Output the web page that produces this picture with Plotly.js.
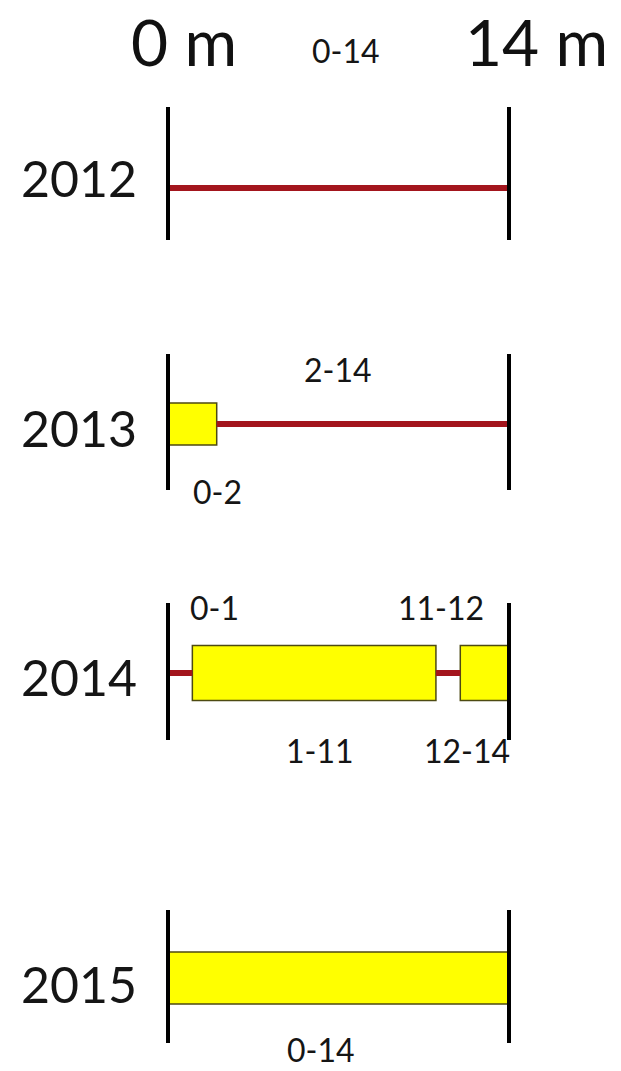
<!DOCTYPE html>
<html>
<head>
<meta charset="utf-8">
<script src="https://cdn.plot.ly/plotly-3.0.1.min.js"></script>
<style>html,body{margin:0;padding:0;background:#fff;}#chart{width:621px;height:1071px;}</style>
</head>
<body>
<div id="chart"></div>
<script>
// ---- data ----
const years = [2012, 2013, 2014, 2015];
const segStart = [[0], [0, 2], [0, 1, 11, 12], [0]];
const segEnd = [[14], [2, 14], [1, 11, 12, 14], [14]];
const segKind = [["wire"], ["box", "wire"], ["wire", "box", "wire", "box"], ["box"]];
const segLabel = [["0-14"], ["0-2", "2-14"], ["0-1", "1-11", "11-12", "12-14"], ["0-14"]];
const scaleEnds = [0, 14];
const scaleLabels = ["0 m", "14 m"];

// ---- layout / style (pixels) ----
const W = 621, H = 1071;
const X0PX = 168, X14PX = 509;
const pxPerM = (X14PX - X0PX) / (scaleEnds[1] - scaleEnds[0]);
const rows = [
  {top: 0,   bot: 295,  c: 188, vt: 107, vb: 240, box: 42, yl: 178},
  {top: 300, bot: 545,  c: 424, vt: 354, vb: 490, box: 42, yl: 428},
  {top: 550, bot: 805,  c: 673, vt: 603, vb: 740, box: 55, yl: 677},
  {top: 815, bot: 1071, c: 978, vt: 910, vb: 1043, box: 52, yl: 984}
];
const labelPx = [
  [[346, 50]],
  [[217, 491], [338, 369]],
  [[214, 607], [320, 750], [441, 607], [467, 750]],
  [[321, 1049]]
];
const RED = '#a3151d', YEL = '#ffff00', EDGE = '#4d4a12';
const FONT = 'Lato, "Open Sans", sans-serif';

const traces = [];
const annotations = [];
const layout = {
  width: W, height: H,
  margin: {l: 0, r: 0, t: 0, b: 0},
  paper_bgcolor: '#fff', plot_bgcolor: '#fff',
  showlegend: false, barmode: 'overlay',
  xaxis: {range: [-X0PX / pxPerM, (W - X0PX) / pxPerM], visible: false, fixedrange: true},
  annotations: annotations
};

years.forEach((yr, i) => {
  const r = rows[i];
  const axName = i === 0 ? 'y' : 'y' + (i + 1);
  const axKey = i === 0 ? 'yaxis' : 'yaxis' + (i + 1);
  layout[axKey] = {
    domain: [1 - r.bot / H, 1 - r.top / H],
    range: [r.c - r.bot, r.c - r.top],
    visible: false, fixedrange: true, anchor: 'x'
  };
  segStart[i].forEach((s, j) => {
    const e = segEnd[i][j];
    if (segKind[i][j] === 'wire') {
      traces.push({type: 'scatter', mode: 'lines', x: [s, e], y: [0, 0],
        xaxis: 'x', yaxis: axName, line: {color: RED, width: 6}, hoverinfo: 'skip'});
    } else {
      traces.push({type: 'bar', orientation: 'h', base: [s], x: [e - s], y: [0], width: [r.box],
        xaxis: 'x', yaxis: axName, marker: {color: YEL, line: {color: EDGE, width: 1.5}}, hoverinfo: 'skip'});
    }
    const lp = labelPx[i][j];
    annotations.push({text: segLabel[i][j], xref: 'x', yref: axName,
      x: (lp[0] - X0PX) / pxPerM, y: r.c - lp[1], showarrow: false,
      xanchor: 'center', yanchor: 'middle',
      font: {family: FONT, size: 32, color: '#151515'}});
  });
  scaleEnds.forEach(v => {
    traces.push({type: 'scatter', mode: 'lines', x: [v, v], y: [r.c - r.vb, r.c - r.vt],
      xaxis: 'x', yaxis: axName, line: {color: '#000', width: 4}, hoverinfo: 'skip'});
  });
  annotations.push({text: String(yr), xref: 'paper', yref: axName, x: 79 / W, y: r.c - r.yl,
    showarrow: false, xanchor: 'center', yanchor: 'middle',
    font: {family: FONT, size: 50, color: '#151515'}});
});

const headerPx = [184, 536];
scaleEnds.forEach((v, k) => {
  annotations.push({text: scaleLabels[k], xref: 'x', yref: 'paper',
    x: (headerPx[k] - X0PX) / pxPerM, y: 1 - 42 / H, showarrow: false,
    xanchor: 'center', yanchor: 'middle',
    font: {family: FONT, size: 64, color: '#111'}});
});

Plotly.newPlot('chart', traces, layout, {staticPlot: true, displayModeBar: false});
</script>
</body>
</html>
